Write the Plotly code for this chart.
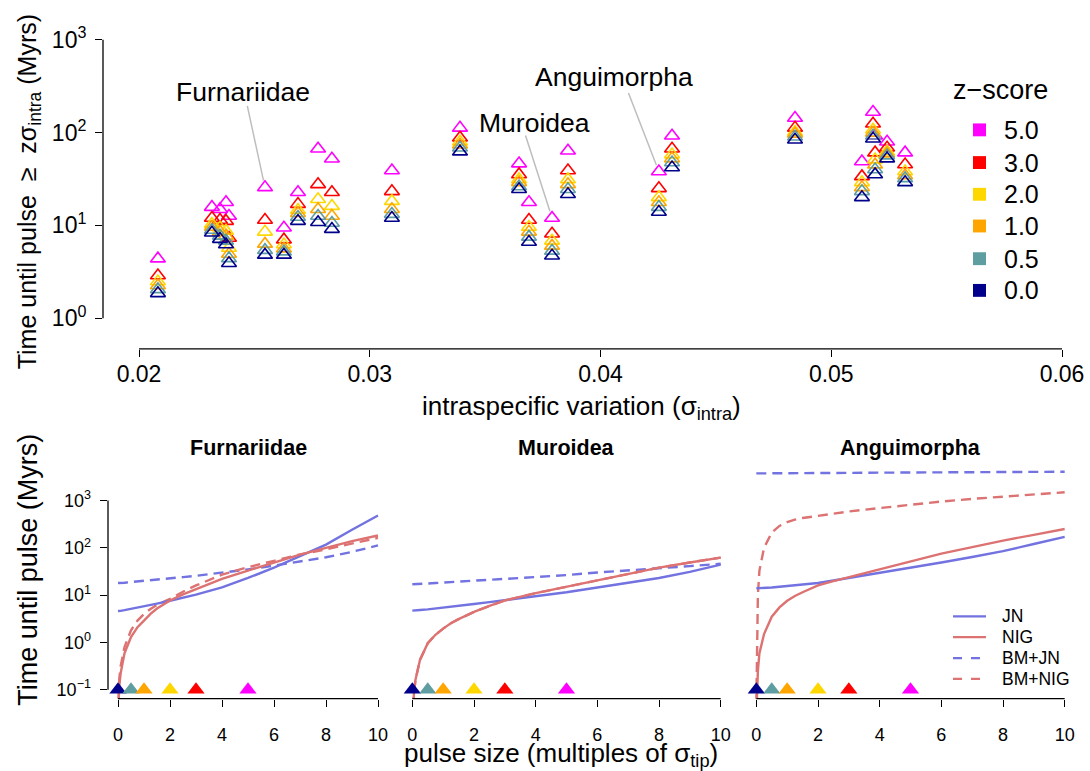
import plotly.graph_objects as go
import math

# ---------------- data ----------------
z_scores = [0.0, 0.5, 1.0, 2.0, 3.0, 5.0]
z_labels = ["0.0", "0.5", "1.0", "2.0", "3.0", "5.0"]
z_colors = ["#00008B", "#5F9EA0", "#FFA500", "#FFD700", "#FF0000", "#FF00FF"]

sigma_intra = [0.02082, 0.02316, 0.02351, 0.02377, 0.02390, 0.02546, 0.02628, 0.02689,
               0.02776, 0.02836, 0.03096, 0.03391, 0.03647, 0.03690, 0.03790, 0.03859,
               0.04253, 0.04310, 0.04843, 0.05181, 0.05190, 0.05133, 0.05242, 0.05320]
t_z0 = [1.85, 8.3, 7.1, 6.2, 3.9, 4.8, 4.8, 11.1, 10.8, 9.1, 12.0, 62.1, 24.4, 6.6, 4.7, 21.6,
        13.9, 41.9, 83.4, 85.5, 35.3, 20.0, 52.3, 29.0]
t_z05 = [2.04, 8.9, 7.7, 6.8, 4.4, 5.4, 5.2, 12.3, 12.6, 10.6, 13.2, 68.5, 26.2, 7.5, 5.3, 24.4,
         15.7, 47.4, 89.8, 92.0, 39.9, 23.2, 56.3, 32.0]
t_z1 = [2.25, 9.6, 8.5, 7.7, 4.9, 6.3, 5.6, 13.5, 14.9, 12.6, 14.9, 73.8, 29.0, 8.5, 6.0, 27.6,
        17.7, 52.3, 96.6, 99.0, 45.0, 25.6, 59.1, 34.4]
t_z2 = [2.48, 10.3, 9.4, 8.7, 5.7, 8.5, 6.2, 14.6, 19.1, 16.1, 18.2, 79.4, 31.2, 9.6, 6.8, 31.2,
        20.0, 57.7, 101.0, 107.0, 51.0, 29.0, 62.1, 38.0]
t_z3 = [2.88, 12.0, 11.4, 11.1, 7.3, 11.4, 7.0, 16.9, 27.6, 22.7, 23.2, 87.5, 35.3, 11.4, 8.1, 38.9,
        25.0, 66.8, 112.0, 124.0, 60.6, 33.6, 68.5, 45.1]
t_z5 = [4.37, 15.7, 14.9, 17.7, 12.6, 25.6, 9.4, 22.7, 66.8, 52.0, 38.9, 112.0, 46.2, 17.7, 12.0, 63.6,
        38.0, 92.0, 143.0, 166.0, 92.0, 48.6, 79.4, 60.6]
t_by_z = [t_z0, t_z05, t_z1, t_z2, t_z3, t_z5]

clade_names = ["Furnariidae", "Muroidea", "Anguimorpha"]
clade_index = [5, 14, 16]

pulse_size = [0, 0.02, 0.05, 0.1, 0.25, 0.5, 0.75, 1, 1.25, 1.5, 2, 2.5, 3, 4, 5, 6, 7, 8, 9, 10]
model_names = ["JN", "NIG", "BM+JN", "BM+NIG"]

furn_JN = [4.6, 4.6, 4.62, 4.65, 4.8, 5.1, 5.4, 5.8, 6.2, 6.6, 7.6, 8.8, 10.2, 14.5, 23, 38, 66,
           117, 240, 480]
furn_NIG = [0.03, 0.06, 0.12, 0.22, 0.59, 1.3, 2.1, 2.9, 4.0, 5.2, 7.7, 10.4, 13.4, 22, 33, 49, 72,
            100, 138, 182]
furn_BMJN = [18, 18, 18.05, 18.1, 18.3, 18.9, 19.4, 20, 20.6, 21.2, 22.5, 24, 25.5, 29.5, 35, 42,
             51, 63, 82, 112]
furn_BMNIG = [0.03, 0.08, 0.17, 0.31, 0.8, 1.8, 2.9, 4.0, 5.1, 6.2, 8.3, 11.8, 16, 27, 39, 53, 72,
              93, 125, 162]

mur_JN = [4.7, 4.7, 4.72, 4.75, 4.85, 5.0, 5.25, 5.5, 5.75, 6.0, 6.5, 7.1, 7.8, 9.3, 11.5, 14.5,
          18, 23, 31, 44]
mur_NIG = [0.02, 0.04, 0.08, 0.16, 0.43, 0.96, 1.45, 1.96, 2.55, 3.1, 4.4, 5.9, 7.7, 11, 15, 20,
           28, 38, 49, 62]
mur_BMJN = [17, 17, 17.05, 17.1, 17.3, 17.6, 18.0, 18.5, 19.0, 19.4, 20.3, 21.1, 22, 24, 26.5, 30,
            33, 37, 41, 46]
mur_BMNIG = [0.02, 0.04, 0.08, 0.16, 0.43, 0.96, 1.45, 1.96, 2.55, 3.1, 4.4, 5.9, 7.7, 11, 15, 20,
             28, 38, 49, 62]

ang_JN = [14, 14, 14.02, 14.05, 14.2, 14.5, 15.0, 15.5, 16.0, 16.6, 18, 20.3, 23, 29, 37, 49, 64,
          85, 120, 170]
ang_NIG = [0.03, 0.1, 0.25, 0.59, 1.5, 3.5, 5.5, 7.6, 9.6, 11.5, 16, 19.8, 24, 35, 51, 75, 103,
           142, 188, 250]
ang_BMJN = [3730, 3730, 3731, 3732, 3735, 3745, 3755, 3765, 3775, 3785, 3800, 3818, 3835, 3870,
            3905, 3940, 3970, 4000, 4025, 4050]
ang_BMNIG = [0.05, 1.0, 10, 33, 100, 210, 290, 350, 395, 425, 475, 530, 585, 690, 820, 950, 1080,
             1210, 1350, 1490]

panel_curves = [
    [furn_JN, furn_NIG, furn_BMJN, furn_BMNIG],
    [mur_JN, mur_NIG, mur_BMJN, mur_BMNIG],
    [ang_JN, ang_NIG, ang_BMJN, ang_BMNIG],
]
marker_base = 0.1

top_xticks = [0.02, 0.03, 0.04, 0.05, 0.06]
top_xticktext = ["0.02", "0.03", "0.04", "0.05", "0.06"]
top_yticks = [1, 10, 100, 1000]
top_yticktext = ["10<sup>0</sup>", "10<sup>1</sup>", "10<sup>2</sup>", "10<sup>3</sup>"]
bot_xticks = [0, 2, 4, 6, 8, 10]
bot_yticks = [0.1, 1, 10, 100, 1000]
bot_yticktext = ["10<sup>\u22121</sup>", "10<sup>0</sup>", "10<sup>1</sup>", "10<sup>2</sup>",
                 "10<sup>3</sup>"]

# ---------------- styling ----------------
W, H = 1090, 771
FONT = "Liberation Sans, Arial, sans-serif"
BLUE = "#7272E0"
RED = "#DD7272"
model_colors = [BLUE, RED, BLUE, RED]
model_dash = ["solid", "solid", "10px,6px", "10px,6px"]


def px(x):
    return x / W


def py(y):
    return 1 - y / H


fig = go.Figure()

# ---- top scatter ----
for zi in reversed(range(len(z_scores))):
    fig.add_trace(go.Scatter(
        x=sigma_intra, y=t_by_z[zi], mode="markers",
        marker=dict(symbol="triangle-up-open", size=13, color=z_colors[zi],
                    line=dict(width=1.6, color=z_colors[zi])),
        showlegend=False, xaxis="x", yaxis="y", cliponaxis=False))

# ---- bottom panels ----
axes_ids = [("x2", "y2"), ("x3", "y3"), ("x4", "y4")]
for p, (xa, ya) in enumerate(axes_ids):
    order = [2, 3, 0, 1]
    for mi in order:
        fig.add_trace(go.Scatter(
            x=pulse_size, y=panel_curves[p][mi], mode="lines",
            line=dict(color=model_colors[mi], width=2.4, dash=model_dash[mi]),
            showlegend=False, xaxis=xa, yaxis=ya))
    fig.add_trace(go.Scatter(
        x=z_scores, y=[marker_base] * len(z_scores), mode="markers",
        marker=dict(symbol="triangle-up", size=15, color=z_colors, line=dict(width=0)),
        showlegend=False, xaxis=xa, yaxis=ya, cliponaxis=False))

axcommon = dict(showgrid=False, zeroline=False, showline=False, ticks="outside",
                ticklen=7, tickwidth=1.2, tickcolor="black", color="black")

top_x_range = [0.02 - 36 / 23075, 0.02 + (W - 139) / 23075]
top_y_range = [(315 - 346) / 93.7, (315 - 23) / 93.7]
bot_y_range = [-1 - 9 / 47.75, -1 + (690 - 466) / 47.75]

layout = dict(
    width=W, height=H, autosize=False,
    margin=dict(l=0, r=0, t=0, b=0),
    paper_bgcolor="white", plot_bgcolor="white",
    font=dict(family=FONT, color="black"),
    xaxis=dict(domain=[px(103), 1.0], range=top_x_range, tickvals=top_xticks,
               ticktext=top_xticktext, tickfont=dict(size=23), anchor="y",
               ticklabelstandoff=-2, **axcommon),
    yaxis=dict(domain=[py(346), py(23)], type="log", range=top_y_range,
               tickvals=top_yticks, ticktext=top_yticktext, tickfont=dict(size=23),
               anchor="x", ticklabelstandoff=4, **axcommon),
)
bot_x_domains = [[107.6, 388.4], [400, 733], [744, 1077]]
for i, (xa, ya) in enumerate(axes_ids):
    xn = "xaxis" + xa[1:]
    yn = "yaxis" + ya[1:]
    layout[xn] = dict(domain=[px(bot_x_domains[i][0]), px(bot_x_domains[i][1])],
                      range=[-0.4, 10.4], tickvals=bot_xticks,
                      tickfont=dict(size=18), anchor=ya, ticklabelstandoff=13, **axcommon)
    yd = dict(domain=[py(699), py(466)], type="log", range=bot_y_range, anchor=xa,
              showgrid=False, zeroline=False, showline=False)
    if i == 0:
        yd.update(tickvals=bot_yticks, ticktext=bot_yticktext, tickfont=dict(size=18),
                  ticks="outside", ticklen=7, tickwidth=1.2, tickcolor="black",
                  ticklabelstandoff=5)
    else:
        yd.update(showticklabels=False, ticks="")
    layout[yn] = yd
fig.update_layout(**layout)

shapes = []
LW = 1.3
# top axis lines
shapes.append(dict(type="line", xref="x", yref="paper", x0=top_xticks[0], x1=top_xticks[-1],
                   y0=py(346), y1=py(346), line=dict(color="black", width=LW)))
shapes.append(dict(type="line", xref="paper", yref="paper", x0=px(103), x1=px(103),
                   y0=py(315), y1=py(34), line=dict(color="black", width=LW)))
# bottom axis lines
for i, (xa, ya) in enumerate(axes_ids):
    shapes.append(dict(type="line", xref=xa, yref="paper", x0=bot_xticks[0], x1=bot_xticks[-1],
                       y0=py(699), y1=py(699), line=dict(color="black", width=LW)))
shapes.append(dict(type="line", xref="paper", yref="paper", x0=px(108), x1=px(108),
                   y0=py(690), y1=py(499), line=dict(color="black", width=LW)))

annotations = []
# legend for z-score
annotations.append(dict(text="z\u2212score", x=px(1000), y=py(85), xref="paper", yref="paper",
                        showarrow=False, font=dict(size=27), xanchor="center", yanchor="middle"))
leg_rows = [125, 158, 190, 222, 255, 287]
for r, zi in enumerate(reversed(range(len(z_scores)))):
    yc = leg_rows[r]
    shapes.append(dict(type="rect", xref="paper", yref="paper",
                       x0=px(973), x1=px(986), y0=py(yc + 6.5), y1=py(yc - 6.5),
                       fillcolor=z_colors[zi], line=dict(width=0)))
    annotations.append(dict(text=z_labels[zi], x=px(1002), y=py(yc), xref="paper", yref="paper",
                            showarrow=False, font=dict(size=25), xanchor="left", yanchor="middle"))

# clade labels with leader lines
label_pos = [(243, 87), (534, 118), (614, 72)]
line_off = [(-18, -83), (-27, -84), (-31, -80)]
for k, name in enumerate(clade_names):
    idx = clade_index[k]
    annotations.append(dict(text=name, x=px(label_pos[k][0]), y=py(label_pos[k][1]),
                            xref="paper", yref="paper", showarrow=False,
                            font=dict(size=26.5), xanchor="center", yanchor="middle"))
    annotations.append(dict(text="", x=sigma_intra[idx], y=math.log10(t_z5[idx]),
                            xref="x", yref="y", showarrow=True, arrowhead=0,
                            arrowwidth=1.5, arrowcolor="#BEBEBE",
                            ax=line_off[k][0], ay=line_off[k][1], standoff=7))

# axis titles top
annotations.append(dict(text="Time until pulse  \u2265  z\u03c3<sub>intra</sub> (Myrs)",
                        x=px(29), y=py(188), xref="paper", yref="paper", showarrow=False,
                        textangle=-90, font=dict(size=25), xanchor="center", yanchor="middle"))
annotations.append(dict(text="intraspecific variation (\u03c3<sub>intra</sub>)",
                        x=px(581), y=py(405), xref="paper", yref="paper", showarrow=False,
                        font=dict(size=26), xanchor="center", yanchor="middle"))
# panel titles
panel_title_x = [248, 566, 910]
for k, name in enumerate(clade_names):
    annotations.append(dict(text="<b>" + name + "</b>", x=px(panel_title_x[k]), y=py(446),
                            xref="paper", yref="paper", showarrow=False,
                            font=dict(size=21.5), xanchor="center", yanchor="middle"))
annotations.append(dict(text="Time until pulse (Myrs)", x=px(28), y=py(569), xref="paper",
                        yref="paper", showarrow=False, textangle=-90, font=dict(size=27),
                        xanchor="center", yanchor="middle"))
annotations.append(dict(text="pulse size (multiples of \u03c3<sub>tip</sub>)", x=px(561),
                        y=py(755), xref="paper", yref="paper", showarrow=False,
                        font=dict(size=26), xanchor="center", yanchor="middle"))

# bottom legend
bleg_rows = [616, 637, 658, 679]
for m, name in enumerate(model_names):
    yc = bleg_rows[m]
    shapes.append(dict(type="line", xref="paper", yref="paper", x0=px(953), x1=px(986),
                       y0=py(yc), y1=py(yc),
                       line=dict(color=model_colors[m], width=2.2,
                                 dash="dash" if "BM" in name else "solid")))
    annotations.append(dict(text=name, x=px(1000), y=py(yc), xref="paper", yref="paper",
                            showarrow=False, font=dict(size=17.5), xanchor="left",
                            yanchor="middle"))

fig.update_layout(shapes=shapes, annotations=annotations)
fig.write_html("out.html",
               config={"displayModeBar": False},
               post_script="document.body.style.margin='0px';"
                           "document.body.style.overflow='hidden';")
